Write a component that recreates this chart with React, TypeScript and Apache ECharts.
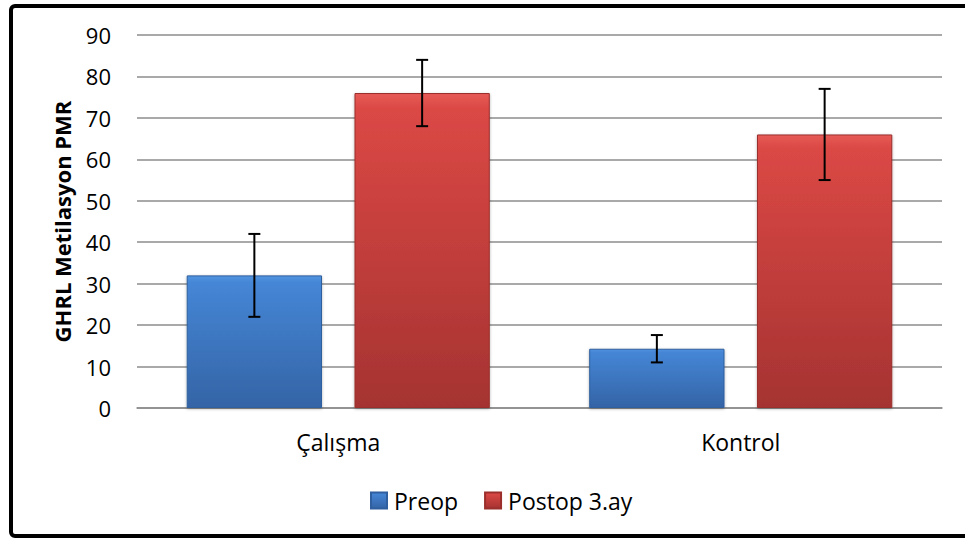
import React, { useEffect, useRef } from "react";
import * as echarts from "echarts";

const categories = ["Çalışma", "Kontrol"];
const seriesNames = ["Preop", "Postop 3.ay"];
const preopValues = [32, 14.3];
const preopErrors = [10, 3.3];
const postopValues = [76, 66];
const postopErrors = [8, 11];
const yTicks = { min: 0, max: 90, interval: 10 };

const FONT = "'Open Sans', 'Noto Sans', sans-serif";

const blueFill = new echarts.graphic.LinearGradient(0, 0, 0, 1, [
  { offset: 0, color: "#5294e0" },
  { offset: 0.05, color: "#4586d6" },
  { offset: 1, color: "#3464a6" },
]);
const redFill = new echarts.graphic.LinearGradient(0, 0, 0, 1, [
  { offset: 0, color: "#e65a55" },
  { offset: 0.05, color: "#db4845" },
  { offset: 1, color: "#a53331" },
]);

const BAR_GAP = 0.24;
const CAT_GAP = 0.247;

function errorSeries(values: number[], errors: number[], sign: number) {
  const data = values.map((v, i) => [i, v, v - errors[i], v + errors[i]]);
  return {
    type: "custom",
    name: "err" + sign,
    z: 10,
    silent: true,
    data,
    encode: { x: 0, y: [2, 3] },
    renderItem: (params: any, api: any) => {
      const cat = api.value(0);
      const lo = api.coord([cat, api.value(2)]);
      const hi = api.coord([cat, api.value(3)]);
      const catW = api.size([1, 0])[0];
      const barW = (catW * (1 - CAT_GAP)) / (2 + BAR_GAP);
      const x = lo[0] + (sign * barW * (1 + BAR_GAP)) / 2;
      const cap = 6;
      const style = { stroke: "#000", lineWidth: 2 };
      return {
        type: "group",
        children: [
          { type: "line", shape: { x1: x, y1: lo[1], x2: x, y2: hi[1] }, style },
          { type: "line", shape: { x1: x - cap, y1: lo[1], x2: x + cap, y2: lo[1] }, style },
          { type: "line", shape: { x1: x - cap, y1: hi[1], x2: x + cap, y2: hi[1] }, style },
        ],
      };
    },
  };
}

export default function App() {
  const ref = useRef<HTMLDivElement>(null);
  useEffect(() => {
    if (!ref.current) return;
    const chart = echarts.init(ref.current, null, { renderer: "svg" });
    chart.setOption({
      animation: false,
      backgroundColor: "#fff",
      graphic: [
        {
          type: "rect",
          shape: { x: 11, y: 6, width: 970, height: 530, r: 4 },
          style: { fill: "none", stroke: "#000", lineWidth: 4 },
          z: 100,
        },
      ],
      grid: { left: 137, right: 23, top: 35, bottom: 130 },
      legend: {
        top: 484,
        left: 365,
        itemWidth: 16,
        itemHeight: 16,
        itemGap: 26,
        icon: "rect",
        data: seriesNames,
        textStyle: { fontFamily: FONT, fontSize: 23, color: "#000", padding: [0, 0, 0, 2] },
      },
      xAxis: {
        type: "category",
        data: categories,
        axisLine: { show: true, lineStyle: { color: "#8c8c8c", width: 1.5 } },
        axisTick: { show: false },
        axisLabel: { fontFamily: FONT, fontSize: 23, color: "#000", margin: 22 },
      },
      yAxis: {
        type: "value",
        min: yTicks.min,
        max: yTicks.max,
        interval: yTicks.interval,
        name: "GHRL Metilasyon PMR",
        nameLocation: "middle",
        nameGap: 64,
        nameTextStyle: { fontFamily: FONT, fontSize: 22, fontWeight: "bold", color: "#000" },
        axisLine: { show: false },
        axisTick: { show: false },
        axisLabel: { fontFamily: FONT, fontSize: 22, color: "#000", margin: 26 },
        splitLine: { lineStyle: { color: "#8c8c8c", width: 1.5 } },
      },
      series: [
        {
          type: "bar",
          name: seriesNames[0],
          data: preopValues,
          barGap: BAR_GAP * 100 + "%",
          barCategoryGap: CAT_GAP * 100 + "%",
          itemStyle: { color: blueFill, borderColor: "#2f5f9e", borderWidth: 1, shadowColor: "rgba(0,0,0,0.3)", shadowBlur: 3, shadowOffsetY: 1 },
        },
        {
          type: "bar",
          name: seriesNames[1],
          data: postopValues,
          barGap: BAR_GAP * 100 + "%",
          barCategoryGap: CAT_GAP * 100 + "%",
          itemStyle: { color: redFill, borderColor: "#9a2f2c", borderWidth: 1, shadowColor: "rgba(0,0,0,0.3)", shadowBlur: 3, shadowOffsetY: 1 },
        },
        errorSeries(preopValues, preopErrors, -1),
        errorSeries(postopValues, postopErrors, 1),
      ],
    });
    return () => chart.dispose();
  }, []);
  return (
    <div
      ref={ref}
      style={{ position: "fixed", left: 0, top: 0, width: 965, height: 538 }}
    />
  );
}
